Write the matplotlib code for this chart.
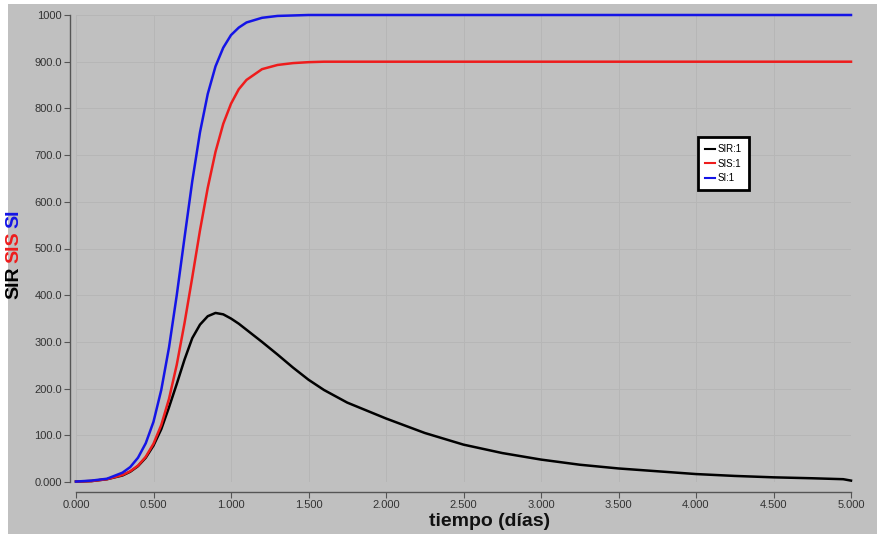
import matplotlib
matplotlib.use("Agg")
import matplotlib.pyplot as plt
from matplotlib.patches import Rectangle

# tiempo (días) y valores
t = [0, 0.1, 0.2, 0.3, 0.35, 0.4, 0.45, 0.5, 0.55, 0.6, 0.65, 0.7, 0.75, 0.8,
     0.85, 0.9, 0.95, 1.0, 1.05, 1.1, 1.2, 1.3, 1.4, 1.5, 1.6, 1.75, 2.0, 2.25,
     2.5, 2.75, 3.0, 3.25, 3.5, 3.75, 4.0, 4.25, 4.5, 4.75, 4.95, 5.0]

si = [1, 3, 7, 20, 32, 52, 83, 129, 197, 288, 400, 523, 644, 749,
      831, 890, 930, 957, 973, 984, 994, 998, 999, 1000, 1000, 1000, 1000, 1000,
      1000, 1000, 1000, 1000, 1000, 1000, 1000, 1000, 1000, 1000, 1000, 1000]

sis = [1, 2, 6, 15, 23, 35, 54, 82, 122, 178, 251, 340, 438, 539,
       630, 707, 767, 810, 841, 861, 884, 893, 897, 899, 900, 900, 900, 900,
       900, 900, 900, 900, 900, 900, 900, 900, 900, 900, 900, 900]

sir = [1, 2, 6, 14, 22, 34, 52, 78, 113, 160, 210, 262, 308, 337,
       355, 362, 359, 350, 339, 326, 300, 273, 245, 219, 197, 170, 136, 105,
       80, 62, 48, 37, 29, 23, 17, 13, 10, 8, 6, 3]

ytick_vals = [0, 100, 200, 300, 400, 500, 600, 700, 800, 900, 1000]
ytick_labels = ["0.000", "100.0", "200.0", "300.0", "400.0", "500.0",
                "600.0", "700.0", "800.0", "900.0", "1000"]
xtick_vals = [0, 0.5, 1, 1.5, 2, 2.5, 3, 3.5, 4, 4.5, 5]
xtick_labels = ["0.000", "0.500", "1.000", "1.500", "2.000", "2.500",
                "3.000", "3.500", "4.000", "4.500", "5.000"]

W, H = 877, 537
bg = "#c0c0c0"
plt.rcParams["font.family"] = ["Liberation Sans", "DejaVu Sans"]

fig = plt.figure(figsize=(W / 100, H / 100), dpi=100, facecolor="white")
fig.patches.append(Rectangle((8 / W, 3 / H), 1 - 8 / W, 1 - 7 / H,
                             transform=fig.transFigure, facecolor=bg,
                             edgecolor="none", zorder=-5))

ax = fig.add_axes([76 / W, (H - 482) / H, (851 - 76) / W, (482 - 15) / H])
ax.set_facecolor(bg)

ax.plot(t, sir, color="black", lw=1.8, label="SIR:1", clip_on=False)
ax.plot(t, sis, color="#ee1c1c", lw=1.8, label="SIS:1", clip_on=False)
ax.plot(t, si, color="#1414e6", lw=1.8, label="SI:1", clip_on=False)

ax.set_xlim(0, 5)
ax.set_ylim(0, 1000)
ax.set_xticks(xtick_vals)
ax.set_xticklabels(xtick_labels)
ax.set_yticks(ytick_vals)
ax.set_yticklabels(ytick_labels)
ax.grid(True, color="#b6b6b6", lw=0.7)
ax.set_axisbelow(True)

for s in ["top", "right"]:
    ax.spines[s].set_visible(False)
ax.spines["left"].set_position(("outward", 4))
ax.spines["bottom"].set_position(("outward", 7))
for s in ["left", "bottom"]:
    ax.spines[s].set_color("#555555")
    ax.spines[s].set_linewidth(1.0)
ax.tick_params(direction="out", length=4, color="#555555",
               labelsize=8, labelcolor="#333333", pad=2)

# etiqueta del eje x
fig.text(490 / W, 1 - 522 / H, "tiempo (días)", fontsize=14, fontweight="bold",
         ha="center", va="center", color="#111111")

# etiqueta del eje y en tres colores
for txt, col, yc in [("SIR", "black", 283), ("SIS", "#ee1c1c", 247), ("SI", "#1414e6", 219)]:
    fig.text(14 / W, 1 - yc / H, txt, rotation=90, fontsize=14, fontweight="bold",
             ha="center", va="center", color=col)

leg = ax.legend(loc="upper left", bbox_to_anchor=(698 / W, 1 - 137 / H),
                bbox_transform=fig.transFigure, fontsize=7, handlelength=1.0,
                handletextpad=0.3, borderpad=0.75, labelspacing=0.45,
                fancybox=False, framealpha=1, borderaxespad=0)
leg.get_frame().set_edgecolor("black")
leg.get_frame().set_linewidth(2)
for line in leg.get_lines():
    line.set_linewidth(1.5)

fig.savefig("out.png", dpi=100, facecolor=fig.get_facecolor())
